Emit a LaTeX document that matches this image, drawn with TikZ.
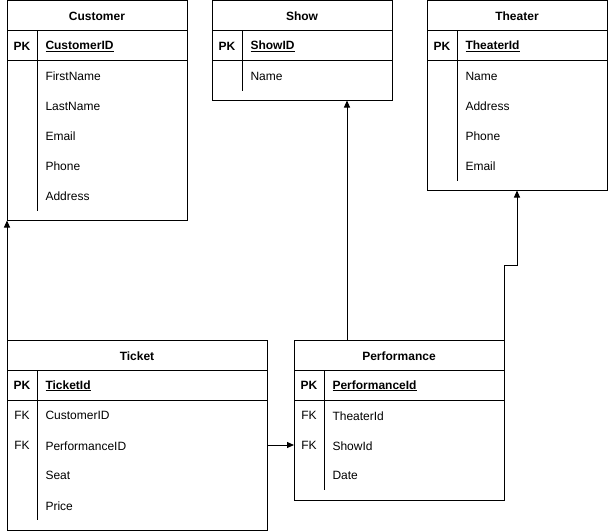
\documentclass[tikz,border=0pt]{standalone}
\usepackage{fontspec}
\setmainfont{Liberation Sans}
\usetikzlibrary{arrows.meta}
\begin{document}
\begin{tikzpicture}[x=1pt,y=-1pt,line width=1pt,
  box/.style={draw,anchor=north west,inner sep=0pt,outer sep=0pt},
  sep/.style={line width=1pt},
  hdr/.style={font=\bfseries\fontsize{12}{14}\selectfont,inner sep=0pt,yshift=-0.8pt},
  pk/.style={font=\bfseries\fontsize{12}{14}\selectfont,inner sep=0pt,yshift=-0.8pt},
  fk/.style={font=\fontsize{12}{14}\selectfont,inner sep=0pt,yshift=-0.8pt},
  fld/.style={font=\fontsize{12}{14}\selectfont,anchor=west,inner sep=0pt,yshift=-0.8pt},
  pkf/.style={font=\bfseries\fontsize{12}{14}\selectfont,anchor=west,inner sep=0pt,yshift=-0.8pt},
  arr/.style={-{Triangle[length=7pt,width=6pt]},line width=1pt}]
\useasboundingbox (0,0) rectangle (608,531);

% ---------- Customer ----------
\node[box,minimum width=180pt,minimum height=220pt] (cust) at (7,0.5) {};
\draw[sep] (7,30.5) -- (187,30.5) (7,60.5) -- (187,60.5) (37,30.5) -- (37,210.5);
\node[hdr] (custh) at (97,15.5) {Customer};
\node[pk] (custpk) at (22,45.5) {PK};
\node[pkf] (custf1) at (45,45.5) {\underline{CustomerID}};
\node[fld] (custf2) at (45,75.5) {FirstName};
\node[fld] (custf3) at (45,105.5) {LastName};
\node[fld] (custf4) at (45,135.5) {Email};
\node[fld] (custf5) at (45,165.5) {Phone};
\node[fld] (custf6) at (45,195.5) {Address};

% ---------- Show ----------
\node[box,minimum width=180pt,minimum height=100pt] (show) at (212,0.5) {};
\draw[sep] (212,30.5) -- (392,30.5) (212,60.5) -- (392,60.5) (242,30.5) -- (242,90.5);
\node[hdr] (showh) at (302,15.5) {Show};
\node[pk] (showpk) at (227,45.5) {PK};
\node[pkf] (showf1) at (250,45.5) {\underline{ShowID}};
\node[fld] (showf2) at (250,75.5) {Name};

% ---------- Theater ----------
\node[box,minimum width=180pt,minimum height=190pt] (thea) at (427,0.5) {};
\draw[sep] (427,30.5) -- (607,30.5) (427,60.5) -- (607,60.5) (457,30.5) -- (457,180.5);
\node[hdr] (theah) at (517,15.5) {Theater};
\node[pk] (theapk) at (442,45.5) {PK};
\node[pkf] (theaf1) at (465,45.5) {\underline{TheaterId}};
\node[fld] (theaf2) at (465,75.5) {Name};
\node[fld] (theaf3) at (465,105.5) {Address};
\node[fld] (theaf4) at (465,135.5) {Phone};
\node[fld] (theaf5) at (465,165.5) {Email};

% ---------- Ticket ----------
\node[box,minimum width=260pt,minimum height=190pt] (tick) at (7,340) {};
\draw[sep] (7,370) -- (267,370) (7,400) -- (267,400) (37,370) -- (37,520);
\node[hdr] (tickh) at (137,355) {Ticket};
\node[pk] (tickpk) at (22,385) {PK};
\node[pkf] (tickf1) at (45,385) {\underline{TicketId}};
\node[fk] (tickfk1) at (22,415) {FK};
\node[fld] (tickf2) at (45,415) {CustomerID};
\node[fk] (tickfk2) at (22,445) {FK};
\node[fld] (tickf3) at (45,445) {PerformanceID};
\node[fld] (tickf4) at (45,475) {Seat};
\node[fld] (tickf5) at (45,505) {Price};

% ---------- Performance ----------
\node[box,minimum width=210pt,minimum height=160pt] (perf) at (294,340) {};
\draw[sep] (294,370) -- (504,370) (294,400) -- (504,400) (324,370) -- (324,490);
\node[hdr] (perfh) at (399,355) {Performance};
\node[pk] (perfpk) at (309,385) {PK};
\node[pkf] (perff1) at (332,385) {\underline{PerformanceId}};
\node[fk] (perffk1) at (309,415) {FK};
\node[fld] (perff2) at (332,415) {TheaterId};
\node[fk] (perffk2) at (309,445) {FK};
\node[fld] (perff3) at (332,445) {ShowId};
\node[fld] (perff4) at (332,475) {Date};

% ---------- connectors ----------
\coordinate (t2p) at (267,445);
\coordinate (p2s) at (347,340);
\coordinate (p2t) at (504,340);
\coordinate (p2tb) at (517,265);
\draw[arr] (tick.north west) -- (cust.south west);
\draw[arr] (t2p) -- (t2p -| perf.west);
\draw[arr] (p2s) -- (p2s |- show.south);
\draw[arr] (p2t) -- (p2t |- p2tb) -- (p2tb) -- (p2tb |- thea.south);
\end{tikzpicture}
\end{document}
